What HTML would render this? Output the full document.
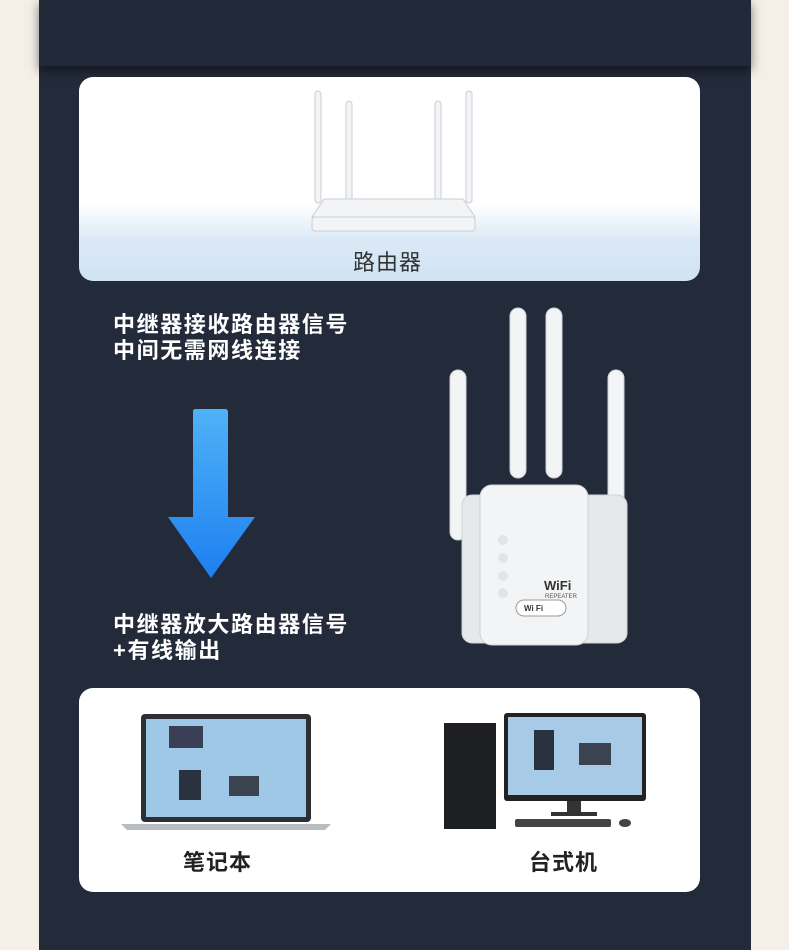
<!DOCTYPE html>
<html><head><meta charset="utf-8"><style>
*{margin:0;padding:0;box-sizing:border-box}
body{width:789px;height:950px;background:#f4f0e8;position:relative;overflow:hidden;font-family:"Liberation Sans","Noto Sans CJK SC",sans-serif}
.panel{position:absolute;left:39px;top:0;width:712px;height:950px;background:#232a3a}
.top{position:absolute;left:39px;top:0;width:712px;height:66px;background:#222938;box-shadow:0 4px 10px rgba(0,0,0,.5)}
.card{position:absolute;left:79px;width:621px;background:#fff;border-radius:14px;overflow:hidden}
.t{position:absolute;color:#fff;font-weight:bold;font-size:22px;letter-spacing:1.6px;line-height:26px}
.lbl{position:absolute;color:#222;font-weight:bold;font-size:22px;letter-spacing:1px}
</style></head><body>
<div class="panel"></div>
<div class="top"></div>

<div class="card" style="top:77px;height:204px;background:linear-gradient(#fff 0%,#fff 62%,#dbe9f6 80%,#cfe3f4 100%)">
  <svg width="621" height="204" style="position:absolute;left:0;top:0">
    <g fill="#f2f4f6" stroke="#c9ced4" stroke-width="1">
      <rect x="236" y="14" width="6" height="112" rx="3"/>
      <rect x="267" y="24" width="6" height="100" rx="3"/>
      <rect x="356" y="24" width="6" height="100" rx="3"/>
      <rect x="387" y="14" width="6" height="112" rx="3"/>
      <path d="M245 122 L384 122 L396 140 L233 140 Z"/>
      <rect x="233" y="140" width="163" height="14" rx="3"/>
    </g>
  </svg>
  <div class="lbl" style="left:274px;top:168px;font-weight:normal;color:#333">路由器</div>
</div>

<div class="t" style="left:113px;top:312px">中继器接收路由器信号<br>中间无需网线连接</div>

<svg width="100" height="180" style="position:absolute;left:163px;top:405px">
  <defs><linearGradient id="g" x1="0" y1="0" x2="0" y2="1"><stop offset="0" stop-color="#4fb2f7"/><stop offset="1" stop-color="#1d7ff0"/></linearGradient></defs>
  <path d="M30 6 Q30 4 33 4 L62 4 Q65 4 65 7 L65 112 L92 112 L48 173 L5 112 L30 112 Z" fill="url(#g)"/>
</svg>

<div class="t" style="left:113px;top:612px">中继器放大路由器信号<br>+有线输出</div>

<svg width="230" height="390" style="position:absolute;left:440px;top:300px">
  <g fill="#f3f4f5" stroke="#cfd3d7">
    <rect x="10" y="70" width="16" height="170" rx="8"/>
    <rect x="70" y="8" width="16" height="170" rx="8"/>
    <rect x="106" y="8" width="16" height="170" rx="8"/>
    <rect x="168" y="70" width="16" height="170" rx="8"/>
    <rect x="22" y="195" width="165" height="148" rx="10" fill="#e6e8ea"/>
    <rect x="40" y="185" width="108" height="160" rx="12"/>
  </g>
  <g fill="#e2e5e8"><circle cx="63" cy="240" r="5"/><circle cx="63" cy="258" r="5"/><circle cx="63" cy="276" r="5"/><circle cx="63" cy="293" r="5"/></g>
  <text x="104" y="290" font-family="Liberation Sans" font-weight="bold" font-size="13" fill="#333">WiFi</text>
  <text x="105" y="298" font-family="Liberation Sans" font-size="6" fill="#555">REPEATER</text>
  <rect x="76" y="300" width="50" height="16" rx="8" fill="#fff" stroke="#999"/>
  <text x="84" y="311" font-family="Liberation Sans" font-weight="bold" font-size="8" fill="#333">Wi Fi</text>
</svg>

<div class="card" style="top:688px;height:204px">
  <svg width="621" height="204" style="position:absolute;left:0;top:0">
    <rect x="62" y="26" width="170" height="108" rx="4" fill="#2c2f33"/>
    <rect x="67" y="31" width="160" height="98" fill="#9fc7e6"/>
    <rect x="90" y="38" width="34" height="22" fill="#3a3f55"/>
    <rect x="100" y="82" width="22" height="30" fill="#2a3240"/>
    <rect x="150" y="88" width="30" height="20" fill="#3b4250"/>
    <path d="M42 136 L252 136 L246 142 L48 142 Z" fill="#b8bcc1"/>
    <rect x="365" y="35" width="52" height="106" fill="#1d1f22"/>
    <rect x="425" y="25" width="142" height="88" rx="3" fill="#222"/>
    <rect x="429" y="29" width="134" height="78" fill="#a7cbe6"/>
    <rect x="455" y="42" width="20" height="40" fill="#2a3240"/>
    <rect x="500" y="55" width="32" height="22" fill="#3b4250"/>
    <rect x="488" y="113" width="14" height="12" fill="#333"/>
    <rect x="472" y="124" width="46" height="4" fill="#333"/>
    <rect x="436" y="131" width="96" height="8" rx="2" fill="#444"/>
    <ellipse cx="546" cy="135" rx="6" ry="4" fill="#444"/>
  </svg>
  <div class="lbl" style="left:104px;top:157px">笔记本</div>
  <div class="lbl" style="left:450px;top:157px">台式机</div>
</div>
</body></html>
